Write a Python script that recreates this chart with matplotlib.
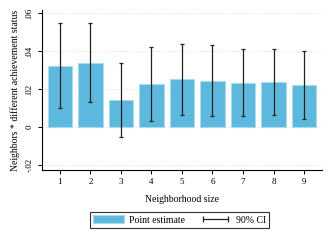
import matplotlib
matplotlib.use('Agg')
import matplotlib.pyplot as plt
from matplotlib.lines import Line2D

plt.rcParams['font.family'] = ['Liberation Serif', 'DejaVu Serif']

sizes = [1, 2, 3, 4, 5, 6, 7, 8, 9]
estimate = [0.0323, 0.0338, 0.0142, 0.0226, 0.0251, 0.0242, 0.0232, 0.0237, 0.0221]
ci_low = [0.0100, 0.0130, -0.0051, 0.0032, 0.0065, 0.0058, 0.0056, 0.0061, 0.0041]
ci_high = [0.0547, 0.0546, 0.0335, 0.0421, 0.0438, 0.0430, 0.0412, 0.0412, 0.0400]
yticks = [-0.02, 0, 0.02, 0.04, 0.06]
ytick_labels = ['-.02', '0', '.02', '.04', '.06']

bar_color = '#5cb8dc'

fig = plt.figure(figsize=(3.3, 2.4), dpi=100)
ax = fig.add_axes([0.127, 0.292, 0.848, 0.666])

for y in yticks:
    ax.axhline(y, color='#d9d9d9', lw=0.7, ls=(0, (1, 2)), zorder=0)

ax.bar(sizes, estimate, width=0.8, color=bar_color, edgecolor='#a9dbee',
       linewidth=0.8, zorder=2)
err_lo = [e - l for e, l in zip(estimate, ci_low)]
err_hi = [h - e for e, h in zip(estimate, ci_high)]
ax.errorbar(sizes, estimate, yerr=[err_lo, err_hi], fmt='none', ecolor='#222222',
            elinewidth=0.9, capsize=1.6, capthick=0.9, zorder=3)

ax.set_xlim(0.41, 9.58)
ax.set_ylim(-0.0226, 0.0616)
ax.set_xticks(sizes)
ax.set_xticklabels([str(s) for s in sizes], fontsize=6.5)
ax.set_yticks(yticks)
ax.set_yticklabels(ytick_labels, fontsize=6.5, rotation=90, va='center')
ax.tick_params(length=3, width=0.7, pad=3)
for s in ['top', 'right']:
    ax.spines[s].set_visible(False)
for s in ['left', 'bottom']:
    ax.spines[s].set_linewidth(0.8)

ax.set_xlabel('Neighborhood size', fontsize=7, labelpad=6)
ax.set_ylabel('Neighbors * different achievement status', fontsize=7, labelpad=4)

bar_handle = plt.Rectangle((0, 0), 1, 1, facecolor=bar_color, edgecolor='#a9dbee', lw=0.8)
ci_handle = Line2D([], [], color='#222222', lw=0.9, marker='|', markersize=4,
                   markeredgewidth=0.9)
leg = fig.legend([bar_handle, ci_handle], ['Point estimate', '90% CI'],
                 loc='center', bbox_to_anchor=(0.544, 0.083), ncol=2, numpoints=2,
                 fontsize=7, frameon=True, fancybox=False, edgecolor='#333333',
                 framealpha=1, handlelength=3.2, handleheight=0.9,
                 columnspacing=1.5, borderpad=0.35, handletextpad=0.5)
leg.get_frame().set_linewidth(0.8)

fig.savefig('out.png', dpi=100)
